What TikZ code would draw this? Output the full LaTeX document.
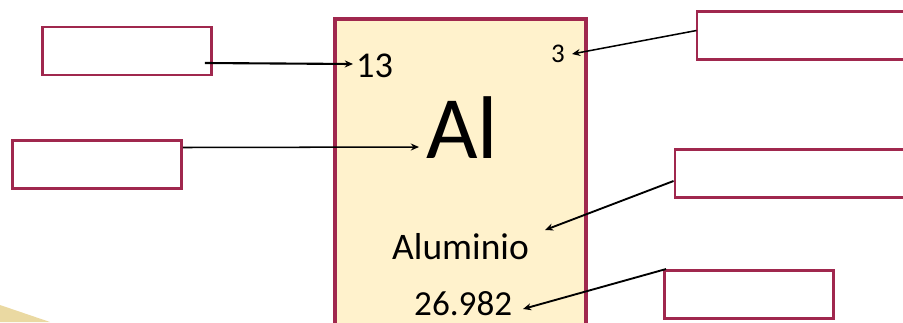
\documentclass[tikz,border=0pt]{standalone}
\usepackage{fontspec}
\setmainfont{Carlito}
\usetikzlibrary{arrows.meta}
\definecolor{marco}{HTML}{A0284E}
\definecolor{crema}{HTML}{FFF2CC}
\definecolor{arena}{HTML}{EAD9A2}
\begin{document}
\begin{tikzpicture}[x=0.03cm,y=-0.03cm,
  caja/.style={draw=marco,line width=2.5pt,minimum width=5.07cm,minimum height=1.44cm,inner sep=0pt},
  dato/.style={anchor=base west,inner sep=0pt},
  flecha/.style={-{Stealth[length=7pt,width=6pt]},line width=1.3pt}]
\useasboundingbox (0,0) rectangle (903,322);
\clip (0,0) rectangle (903,322);
\fill[arena] (0,305) -- (50,322) -- (0,322) -- cycle;
% casilla del elemento
\draw[marco,fill=crema,line width=3.4pt] (335,19) rectangle (586,345);
\node[dato,font=\fontsize{31}{31}\selectfont] (num) at (356,77) {13};
\node[dato,font=\fontsize{23}{23}\selectfont] (val) at (551,62) {3};
\node[dato,font=\fontsize{76}{76}\selectfont] (sim) at (426,158) {Al};
\node[dato,font=\fontsize{32}{32}\selectfont] (nom) at (392,259) {Aluminio};
\node[dato,font=\fontsize{30}{30}\selectfont] (masa) at (414,315) {26.982};
% recuadros vacios
\node[caja] (c1) at (127,51) {};
\node[caja] (c2) at (97,164.5) {};
\node[caja,minimum width=6.3cm] (c3) at (802,35.5) {};
\node[caja,minimum width=6.9cm] (c4) at (790,173.5) {};
\node[caja] (c5) at (749,294.5) {};
\coordinate (p1) at (353,64);
\coordinate (p2) at (419,147);
\coordinate (p3) at (572,54);
\coordinate (p4) at (545,230);
\coordinate (p5) at (523,309);
\draw[flecha,line width=1.8pt] ([shift={(-8,12)}]c1.east) -- (p1);
\draw[flecha] ([shift={(0,-17)}]c2.east) -- (p2);
\draw[flecha] ([shift={(1,-5)}]c3.west) -- (p3);
\draw[flecha,line width=1.6pt] ([shift={(0,7.5)}]c4.west) -- (p4);
\draw[flecha,line width=1.6pt] ([shift={(3,0)}]c5.north west) -- (p5);
\end{tikzpicture}
\end{document}
